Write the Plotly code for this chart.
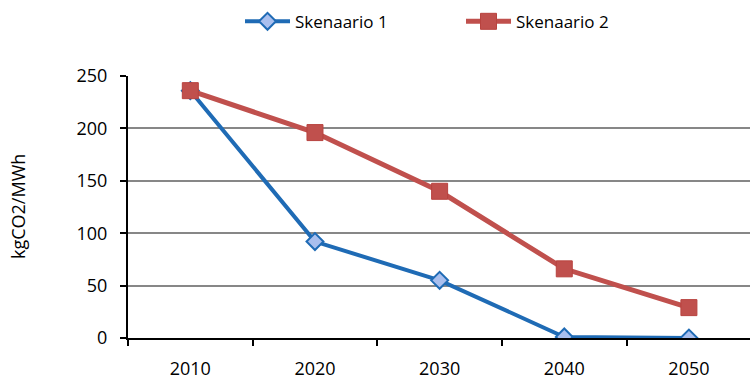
import plotly.graph_objects as go

# Emission factors of electricity generation per scenario (kgCO2/MWh)
years = ["2010", "2020", "2030", "2040", "2050"]
skenaario_1 = [236, 92, 55, 1, 0]
skenaario_2 = [236, 196, 140, 66, 29]
y_ticks = [0, 50, 100, 150, 200, 250]

BLUE = "#1f6bb5"
RED = "#c0504d"
FONT = "Open Sans"

fig = go.Figure()

fig.add_trace(go.Scatter(
    x=years, y=skenaario_1, name="Skenaario 1", mode="lines+markers",
    line=dict(color=BLUE, width=4),
    marker=dict(symbol="diamond", size=13, color="#a9bfee",
                line=dict(color=BLUE, width=2)),
))
fig.add_trace(go.Scatter(
    x=years, y=skenaario_2, name="Skenaario 2", mode="lines+markers",
    line=dict(color=RED, width=5),
    marker=dict(symbol="square", size=16, color=RED,
                line=dict(color="#b8433f", width=1)),
))

fig.update_layout(
    width=750, height=382,
    margin=dict(l=128, r=0, t=76, b=44),
    paper_bgcolor="white", plot_bgcolor="white",
    font=dict(family=FONT, size=18, color="black"),
    showlegend=True,
    legend=dict(
        orientation="h", xref="container", yref="container",
        x=0.32, xanchor="left", y=0.943, yanchor="middle",
        entrywidth=161, entrywidthmode="pixels",
        font=dict(family=FONT, size=17, color="black"),
        itemwidth=45,
    ),
    xaxis=dict(
        type="category", range=[-0.5, 4.49], tickson="boundaries",
        ticks="outside", ticklen=6, tickwidth=2, tickcolor="black",
        showline=True, linecolor="black", linewidth=2,
        showgrid=False, zeroline=False, automargin=False,
        tickfont=dict(family=FONT, size=18),
        ticklabelstandoff=13,
    ),
    yaxis=dict(
        range=[0, 250], tickvals=y_ticks,
        ticks="outside", ticklen=6, tickwidth=2, tickcolor="black",
        showline=True, linecolor="black", linewidth=2,
        showgrid=True, gridcolor="#878787", gridwidth=2,
        zeroline=False, automargin=False,
        tickfont=dict(family=FONT, size=18),
        ticklabelstandoff=9,
    ),
    annotations=[dict(
        text="kgCO2/MWh", textangle=-90, showarrow=False,
        xref="paper", yref="paper", x=(18 - 128) / 622, y=0.5,
        xanchor="center", yanchor="middle",
        font=dict(family=FONT, size=18, color="black"),
    )],
)

fig.write_html("out.html")
